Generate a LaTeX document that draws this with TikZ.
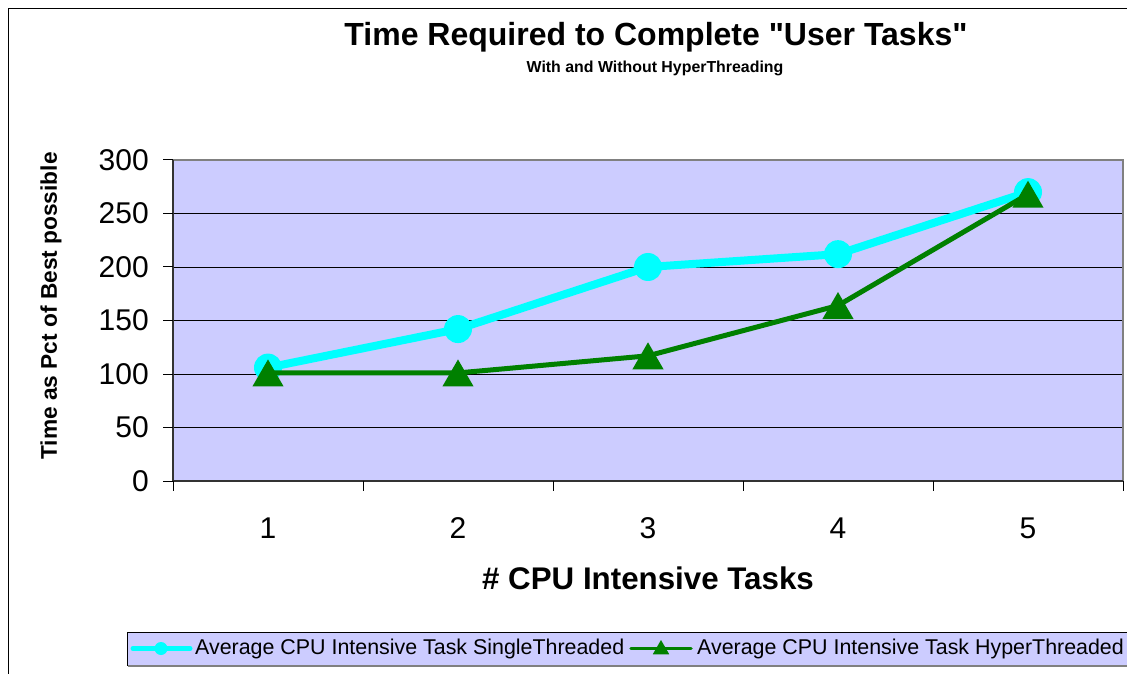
\documentclass[tikz,border=0pt]{standalone}
\usepackage{fontspec}
\setmainfont{Liberation Sans}
\newfontfamily\plainsans{Liberation Sans}
\usetikzlibrary{shapes.geometric}
\definecolor{lav}{HTML}{CCCCFF}
\definecolor{cy}{HTML}{00FFFF}
\definecolor{gr}{HTML}{008000}
\definecolor{plotgrey}{HTML}{808080}
\begin{document}
\begin{tikzpicture}[x=1pt,y=1pt,
  gridline/.style={black, line width=0.9pt},
  tickline/.style={black, line width=1pt},
  ticklabel/.style={font=\fontsize{30}{30}\selectfont, inner sep=0pt},
  singleline/.style={cy, line width=8pt, line join=round},
  hyperline/.style={gr, line width=5pt, line join=round},
  cmark/.style={circle, fill=cy, minimum size=28pt, inner sep=0pt},
  tmark/.style={regular polygon, regular polygon sides=3, fill=gr, minimum size=36pt, inner sep=0pt, yshift=-4.5pt},
  legtext/.style={font=\fontsize{21.4}{22}\selectfont, inner sep=0pt, anchor=west}
]
\useasboundingbox (0,0) rectangle (1127,673);
\fill[white] (0,0) rectangle (1127,673);
% outer frame
\draw[black, line width=1.5pt] (8.5,-5) -- (8.5,664.5) -- (1135,664.5);

% titles
\node[font=\bfseries\fontsize{32}{32}\selectfont, inner sep=0pt] (title) at (656,636) {Time Required to Complete {\plainsans\bfseries"}User Tasks{\plainsans\bfseries"}};
\node[font=\bfseries\fontsize{15.9}{16}\selectfont, inner sep=0pt] (subtitle) at (655,605) {With and Without HyperThreading};

% plot area
\fill[lav] (173,192) rectangle (1123,513);
\foreach \k in {1,...,5} {
  \draw[gridline] (173,{192+53.5*\k}) -- (1123,{192+53.5*\k});
}
\draw[plotgrey, line width=2pt] (173,192) rectangle (1123,513);
\draw[black!80, line width=1.5pt] (173,513) -- (173,192) -- (1123,192);

% y ticks and labels
\foreach \k/\v in {0/0,1/50,2/100,3/150,4/200,5/250,6/300} {
  \draw[tickline] (163,{192+53.5*\k}) -- (173,{192+53.5*\k});
  \node[ticklabel, anchor=east] (yl\v) at (149,{192+53.5*\k}) {\v};
}
% x ticks and labels
\foreach \x in {173,363,553,743,933,1123} {
  \draw[tickline] (\x,192) -- (\x,182);
}
\foreach \i/\x in {1/268,2/458,3/648,4/838,5/1028} {
  \node[ticklabel] (xl\i) at (\x,145) {\i};
}

% axis titles
\node[font=\bfseries\fontsize{31.3}{32}\selectfont, inner sep=0pt] (xtitle) at (648,95) {\# CPU Intensive Tasks};
\node[font=\bfseries\fontsize{22.7}{23}\selectfont, inner sep=0pt, rotate=90] (ytitle) at (51,367) {Time as Pct of Best possible};

% data points
\coordinate (s1) at (268,305.42);
\coordinate (s2) at (458,343.94);
\coordinate (s3) at (648,406);
\coordinate (s4) at (838,418.84);
\coordinate (s5) at (1028,480.9);
\coordinate (h1) at (268,300.07);
\coordinate (h2) at (458,300.07);
\coordinate (h3) at (648,317.19);
\coordinate (h4) at (838,367.48);
\coordinate (h5) at (1028,478.76);

\draw[singleline] (s1) -- (s2) -- (s3) -- (s4) -- (s5);
\foreach \p in {s1,s2,s3,s4,s5} { \node[cmark] at (\p) {}; }
\draw[hyperline] (h1) -- (h2) -- (h3) -- (h4) -- (h5);
\foreach \p in {h1,h2,h3,h4,h5} { \node[tmark] at (\p) {}; }

% legend
\draw[black, line width=1pt, fill=lav] (127,41) rectangle (1140,8);
\draw[plotgrey, line width=1.5pt] (128,7) -- (1140,7);
\coordinate (la) at (133,24.5);
\coordinate (lb) at (190,24.5);
\coordinate (lc) at (161,24.5);
\draw[cy, line width=5pt, line cap=round] (la) -- (lb);
\node[circle, fill=cy, minimum size=13pt, inner sep=0pt] (lcm) at (lc) {};
\node[legtext] (lt1) at (195,24.5) {Average CPU Intensive Task SingleThreaded};
\coordinate (ld) at (631,24.5);
\coordinate (le) at (691,24.5);
\coordinate (lf) at (661,24.5);
\draw[gr, line width=3.5pt, line cap=round] (ld) -- (le);
\node[regular polygon, regular polygon sides=3, fill=gr, minimum size=19pt, inner sep=0pt, yshift=-1pt] (ltm) at (lf) {};
\node[legtext] (lt2) at (697,24.5) {Average CPU Intensive Task HyperThreaded};
\end{tikzpicture}
\end{document}
